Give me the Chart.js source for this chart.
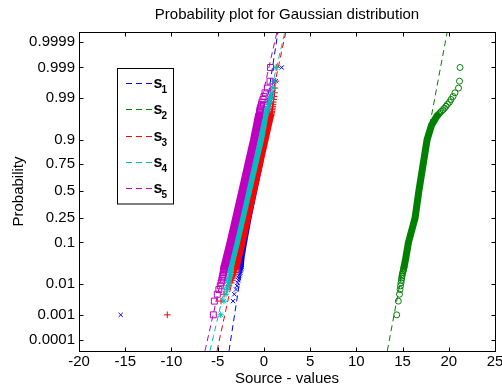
<!DOCTYPE html>
<html>
<head>
<meta charset="utf-8">
<script src="https://cdn.jsdelivr.net/npm/chart.js@4.4.1/dist/chart.umd.min.js"></script>
<style>
    html, body { margin: 0; padding: 0; background: #fff; }
    #wrap { width: 502px; height: 389px; }
</style>
</head>
<body>
<div id="wrap"><canvas id="probChart" width="502" height="389"></canvas></div>
<script>
// ---- values ----
const seriesLabels = ['s1', 's2', 's3', 's4', 's5'];

// probability axis ticks
const probTicks = [0.0001, 0.001, 0.01, 0.1, 0.25, 0.5, 0.75, 0.9, 0.99, 0.999, 0.9999];
const probTickLabels = ['0.0001', '0.001', '0.01', '0.1', '0.25', '0.5', '0.75', '0.9', '0.99', '0.999', '0.9999'];

// probability levels of the separately visible markers and of the dense core
const lowP  = [0.001, 0.003, 0.005, 0.007, 0.009, 0.011, 0.013, 0.015, 0.017, 0.019, 0.021, 0.023, 0.025, 0.027, 0.029];
const bandP = [0.03, 0.05, 0.1, 0.25, 0.5, 0.75, 0.9, 0.95, 0.97];
const highP = [0.971, 0.973, 0.975, 0.977, 0.979, 0.981, 0.983, 0.985, 0.987, 0.989, 0.991, 0.993, 0.995, 0.997, 0.999];
// reference line end points (at the axis limits)
const lineP = [0.000033, 0.999967];

// s1
const s1Low  = [-15.49, -3.34, -3.2, -3.02, -2.91, -2.84, -2.76, -2.7, -2.65, -2.6, -2.56, -2.52, -2.48, -2.44, -2.4];
const s1Band = [-2.45, -2.35, -2.08, -1.6, -1.0, -0.38, 0.1, 0.05, 0.21];
const s1High = [0.24, 0.28, 0.32, 0.36, 0.4, 0.45, 0.5, 0.56, 0.62, 0.69, 0.77, 0.87, 1.0, 1.3, 1.93];
const s1Line = [-3.77, 1.53];
// s2
const s2Low  = [14.37, 14.54, 14.67, 14.73, 14.78, 14.83, 14.87, 14.91, 14.94, 14.98, 15.02, 15.06, 15.1, 15.13, 15.16];
const s2Band = [15.18, 15.37, 15.64, 16.35, 16.76, 17.23, 17.65, 18.13, 18.73];
const s2High = [18.8, 18.92, 19.05, 19.2, 19.38, 19.54, 19.7, 19.86, 20.08, 20.24, 20.46, 20.67, 21.05, 21.16, 21.22];
const s2Line = [13.35, 19.84];
// s3
const s3Low  = [-10.45, -4.64, -4.31, -3.99, -3.77, -3.56, -3.42, -3.32, -3.24, -3.17, -3.11, -3.06, -3.01, -2.97, -2.94];
const s3Band = [-2.92, -2.69, -2.3, -1.71, -1.06, -0.41, 0.18, 0.53, 0.77];
const s3High = [0.8, 0.82, 0.85, 0.88, 0.9, 0.93, 0.96, 0.99, 1.02, 1.06, 1.1, 1.15, 1.2, 1.28, 1.4];
const s3Line = [-5.07, 2.39];
// s4
const s4Low  = [-4.67, -4.32, -4.1, -3.99, -3.9, -3.84, -3.78, -3.74, -3.7, -3.67, -3.64, -3.62, -3.6, -3.58, -3.56];
const s4Band = [-3.55, -3.31, -2.91, -2.29, -1.61, -0.93, -0.31, -0.02, 0.15];
const s4High = [0.17, 0.2, 0.24, 0.28, 0.32, 0.38, 0.45, 0.52, 0.6, 0.68, 0.76, 0.86, 0.99, 1.09, 1.31];
const s4Line = [-5.83, 2.28];
// s5
const s5Low  = [-5.47, -5.36, -5.04, -4.87, -4.72, -4.62, -4.55, -4.5, -4.45, -4.41, -4.38, -4.35, -4.32, -4.3, -4.27];
const s5Band = [-4.25, -4.0, -3.61, -3.0, -2.33, -1.67, -1.07, -0.75, -0.55];
const s5High = [-0.5, -0.48, -0.46, -0.44, -0.42, -0.38, -0.31, -0.26, -0.2, -0.1, 0.01, 0.12, 0.37, 0.66, 0.72];
const s5Line = [-6.37, 1.42];

// ---- styles ----
const colors = ['#0000ff', '#008000', '#ff0000', '#00bfbf', '#bf00bf'];
const markers = ['crossRot', 'circle', 'cross', 'star', 'rect'];
const markerRadius = [3, 3, 3.3, 3.2, 4.2];
const bandWidth = [5, 7, 6, 6, 8];
const FONT = "'Liberation Sans', Arial, Helvetica, sans-serif";

// inverse normal cdf (Acklam) - maps probabilities onto the linear axis
function probit(p) {
    const a = [-3.969683028665376e+01, 2.209460984245205e+02, -2.759285104469687e+02, 1.383577518672690e+02, -3.066479806614716e+01, 2.506628277459239e+00];
    const b = [-5.447609879822406e+01, 1.615858368580409e+02, -1.556989798598866e+02, 6.680131188771972e+01, -1.328068155288572e+01];
    const c = [-7.784894002430293e-03, -3.223964580411365e-01, -2.400758277161838e+00, -2.549732539343734e+00, 4.374664141464968e+00, 2.938163982698783e+00];
    const d = [7.784695709041462e-03, 3.224671290700398e-01, 2.445134137142996e+00, 3.754408661907416e+00];
    const pl = 0.02425;
    if (p < pl) {
        const q = Math.sqrt(-2 * Math.log(p));
        return (((((c[0]*q+c[1])*q+c[2])*q+c[3])*q+c[4])*q+c[5]) / ((((d[0]*q+d[1])*q+d[2])*q+d[3])*q+1);
    }
    if (p > 1 - pl) {
        const q = Math.sqrt(-2 * Math.log(1 - p));
        return -(((((c[0]*q+c[1])*q+c[2])*q+c[3])*q+c[4])*q+c[5]) / ((((d[0]*q+d[1])*q+d[2])*q+d[3])*q+1);
    }
    const q = p - 0.5, r = q * q;
    return (((((a[0]*r+a[1])*r+a[2])*r+a[3])*r+a[4])*r+a[5])*q / (((((b[0]*r+b[1])*r+b[2])*r+b[3])*r+b[4])*r+1);
}

function pts(xs, ps) {
    return xs.map((x, i) => ({ x: x, y: probit(ps[i]) }));
}

const series = [
    { low: s1Low, band: s1Band, high: s1High, line: s1Line },
    { low: s2Low, band: s2Band, high: s2High, line: s2Line },
    { low: s3Low, band: s3Band, high: s3High, line: s3Line },
    { low: s4Low, band: s4Band, high: s4High, line: s4Line },
    { low: s5Low, band: s5Band, high: s5High, line: s5Line }
];

const datasets = [];
series.forEach((s, i) => {
    // reference line (dashed), kept below the data
    datasets.push({
        label: seriesLabels[i],
        data: pts(s.line, lineP),
        showLine: true,
        borderColor: colors[i],
        borderWidth: 1,
        borderDash: [6, 4],
        pointRadius: 0,
        clip: 0,
        order: 100 + i
    });
    // dense core of the markers
    datasets.push({
        label: seriesLabels[i] + ' core',
        data: pts(s.band, bandP),
        showLine: true,
        borderColor: colors[i],
        borderWidth: bandWidth[i],
        borderCapStyle: 'round',
        borderJoinStyle: 'round',
        pointRadius: 0,
        order: 51 - i * 10
    });
    // individual markers of the tails
    datasets.push({
        label: seriesLabels[i] + ' data',
        data: pts(s.low, lowP).concat(pts(s.high, highP)),
        showLine: false,
        pointStyle: markers[i],
        pointRadius: markerRadius[i],
        pointBorderWidth: 1,
        pointBorderColor: colors[i],
        pointBackgroundColor: 'rgba(0,0,0,0)',
        order: 50 - i * 10
    });
});

// box and inward tick marks, matlab style
const axesBox = {
    id: 'axesBox',
    afterDraw(chart) {
        const { ctx, chartArea: a, scales } = chart;
        const L = Math.round(a.left) + 0.5, R = Math.round(a.right) + 0.5;
        const T = Math.round(a.top) + 0.5, B = Math.round(a.bottom) + 0.5;
        const len = 4;
        ctx.save();
        ctx.strokeStyle = '#000';
        ctx.lineWidth = 1;
        ctx.setLineDash([]);
        ctx.beginPath();
        scales.x.ticks.forEach(t => {
            const px = Math.round(scales.x.getPixelForValue(t.value)) + 0.5;
            ctx.moveTo(px, B); ctx.lineTo(px, B - len);
            ctx.moveTo(px, T); ctx.lineTo(px, T + len);
        });
        scales.y.ticks.forEach(t => {
            const py = Math.round(scales.y.getPixelForValue(t.value)) + 0.5;
            ctx.moveTo(L, py); ctx.lineTo(L + len, py);
            ctx.moveTo(R, py); ctx.lineTo(R - len, py);
        });
        ctx.stroke();
        ctx.strokeRect(L, T, R - L, B - T);
        ctx.restore();
    }
};

// legend with subscripted labels
const subLegend = {
    id: 'subLegend',
    afterDraw(chart) {
        const ctx = chart.ctx;
        const bx = 117.5, by = 68.5, bw = 56, bh = 135.5;
        ctx.save();
        ctx.fillStyle = '#fff';
        ctx.fillRect(bx, by, bw, bh);
        ctx.strokeStyle = '#000';
        ctx.lineWidth = 1;
        ctx.strokeRect(bx, by, bw, bh);
        seriesLabels.forEach((lab, i) => {
            const y = Math.round(83 + i * 26.25) + 0.5;
            ctx.strokeStyle = colors[i];
            ctx.setLineDash([6, 4]);
            ctx.beginPath();
            ctx.moveTo(126, y);
            ctx.lineTo(152, y);
            ctx.stroke();
            ctx.setLineDash([]);
            ctx.fillStyle = '#000';
            ctx.textBaseline = 'alphabetic';
            ctx.textAlign = 'left';
            ctx.font = 'bold 16px ' + FONT;
            ctx.fillText(lab.charAt(0), 153.5, y + 4.5);
            ctx.font = 'bold 10px ' + FONT;
            ctx.fillText(lab.slice(1), 161.5, y + 9.5);
        });
        ctx.restore();
    }
};

new Chart(document.getElementById('probChart'), {
    type: 'scatter',
    data: { datasets },
    options: {
        responsive: false,
        animation: false,
        devicePixelRatio: 1,
        layout: { padding: { left: 0, right: 7, top: 0, bottom: 0 } },
        scales: {
            x: {
                type: 'linear',
                min: -20,
                max: 25,
                ticks: {
                    stepSize: 5,
                    color: '#000',
                    padding: 2,
                    maxRotation: 0,
                    font: { family: FONT, size: 15 }
                },
                grid: { display: false, drawTicks: false },
                border: { display: false },
                title: {
                    display: true,
                    text: 'Source - values',
                    color: '#000',
                    padding: { top: 0, bottom: 1 },
                    font: { family: FONT, size: 15 }
                },
                afterFit(scale) {
                    scale.height = 38;
                    scale.paddingLeft = 0;
                    scale.paddingRight = 0;
                }
            },
            y: {
                type: 'linear',
                min: -3.994,
                max: 3.977,
                afterBuildTicks(scale) {
                    scale.ticks = probTicks.map(p => ({ value: probit(p) }));
                },
                ticks: {
                    autoSkip: false,
                    color: '#000',
                    padding: 4,
                    font: { family: FONT, size: 15 },
                    callback: (v, i) => probTickLabels[i]
                },
                grid: { display: false, drawTicks: false },
                border: { display: false },
                title: {
                    display: true,
                    text: 'Probability',
                    color: '#000',
                    padding: { top: 10, bottom: 0 },
                    font: { family: FONT, size: 15 }
                },
                afterFit(scale) {
                    scale.width = 79;
                    scale.paddingTop = 0;
                    scale.paddingBottom = 0;
                }
            }
        },
        plugins: {
            legend: { display: false },
            tooltip: { enabled: false },
            title: {
                display: true,
                fullSize: false,
                text: 'Probability plot for Gaussian distribution',
                color: '#000',
                font: { family: FONT, size: 15, weight: 'normal' },
                padding: { top: 6, bottom: 8 }
            }
        }
    },
    plugins: [axesBox, subLegend]
});
</script>
</body>
</html>
